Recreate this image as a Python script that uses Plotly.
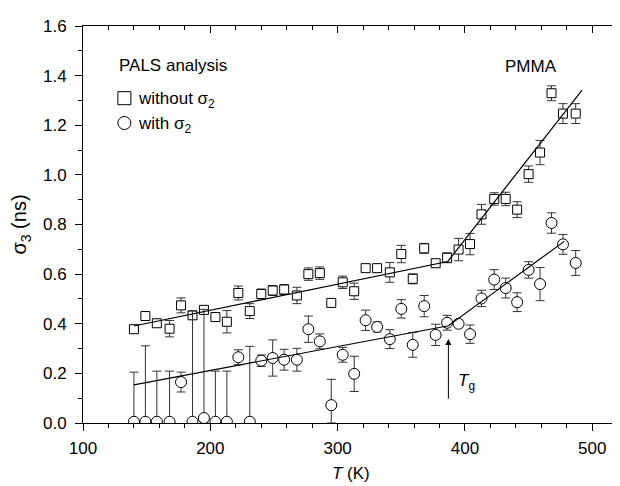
import plotly.graph_objects as go

# temperatures (K)
temp = [140, 149, 158, 168, 177, 186, 195, 204, 213, 222, 231, 240, 249, 258, 268,
        277, 286, 295, 304, 313, 322, 331, 341, 350, 359, 368, 377, 386, 395, 404,
        413, 423, 432, 441, 450, 459, 468, 477, 487]

# sigma_3 from PALS analysis without sigma_2 (squares)
sig_without = [0.378, 0.431, 0.402, 0.380, 0.474, 0.434, 0.456, 0.427, 0.408, 0.524,
               0.451, 0.520, 0.534, 0.538, 0.514, 0.600, 0.604, 0.484, 0.567, 0.531,
               0.624, 0.624, 0.607, 0.681, 0.581, 0.704, 0.644, 0.666, 0.699, 0.721,
               0.841, 0.903, 0.903, 0.860, 1.003, 1.090, 1.329, 1.247, 1.247]
err_without = [0.015, 0.015, 0.015, 0.033, 0.030, 0.015, 0.015, 0.015, 0.045, 0.028,
               0.030, 0.020, 0.020, 0.020, 0.033, 0.025, 0.025, 0.0, 0.025, 0.033,
               0.015, 0.015, 0.040, 0.035, 0.020, 0.020, 0.015, 0.020, 0.045, 0.043,
               0.040, 0.025, 0.027, 0.032, 0.033, 0.049, 0.030, 0.040, 0.040]

# sigma_3 from PALS analysis with sigma_2 (circles)
sig_with = [0.005, 0.005, 0.005, 0.005, 0.165, 0.005, 0.020, 0.005, 0.005, 0.265,
            0.005, 0.251, 0.262, 0.255, 0.255, 0.378, 0.329, 0.072, 0.275, 0.198,
            0.414, 0.387, 0.338, 0.460, 0.315, 0.471, 0.355, 0.404, 0.400, 0.358,
            0.502, 0.578, 0.544, 0.487, 0.617, 0.560, 0.806, 0.720, 0.645]
err_with_up = [0.200, 0.306, 0.204, 0.204, 0.040, 0.446, 0.438, 0.204, 0.204, 0.030,
               0.304, 0.023, 0.073, 0.042, 0.046, 0.053, 0.030, 0.104, 0.030, 0.071,
               0.041, 0.020, 0.038, 0.037, 0.050, 0.043, 0.043, 0.030, 0.015, 0.037,
               0.033, 0.040, 0.040, 0.038, 0.033, 0.067, 0.041, 0.040, 0.050]
err_with_down = [0.005, 0.005, 0.005, 0.005, 0.040, 0.005, 0.020, 0.005, 0.005, 0.030,
                 0.005, 0.023, 0.073, 0.042, 0.046, 0.053, 0.030, 0.072, 0.030, 0.071,
                 0.041, 0.020, 0.038, 0.037, 0.050, 0.043, 0.043, 0.030, 0.015, 0.037,
                 0.033, 0.040, 0.040, 0.038, 0.033, 0.067, 0.041, 0.040, 0.050]

# bilinear fits
fit_without_T = [140, 386.5, 492]
fit_without_s = [0.391, 0.651, 1.342]
fit_with_T = [140, 387, 478]
fit_with_s = [0.154, 0.392, 0.732]

FONT = "Liberation Sans"
ink = "black"

fig = go.Figure()

fig.add_trace(go.Scatter(
    x=temp, y=sig_without, mode="markers",
    marker=dict(symbol="square", size=9, color="white", line=dict(color=ink, width=1)),
    error_y=dict(type="data", array=err_without, color="#333", thickness=1, width=4.5),
    showlegend=False, hoverinfo="skip"))

fig.add_trace(go.Scatter(
    x=temp, y=sig_with, mode="markers",
    marker=dict(symbol="circle", size=11, color="white", line=dict(color=ink, width=1)),
    error_y=dict(type="data", symmetric=False, array=err_with_up, arrayminus=err_with_down,
                 color="#333", thickness=1, width=4.5),
    showlegend=False, hoverinfo="skip"))

fig.add_trace(go.Scatter(x=fit_without_T, y=fit_without_s, mode="lines",
                         line=dict(color=ink, width=1.2), showlegend=False, hoverinfo="skip"))
fig.add_trace(go.Scatter(x=fit_with_T, y=fit_with_s, mode="lines",
                         line=dict(color=ink, width=1.2), showlegend=False, hoverinfo="skip"))

# empty trace so the mirrored top/right axes get drawn
fig.add_trace(go.Scatter(x=[None], y=[None], xaxis="x2", yaxis="y2",
                         showlegend=False, hoverinfo="skip"))

xr = [100, 521]
yr = [0, 1.6]

# the page body has an 8px margin, so the margins are offset to compensate
fig.update_layout(
    width=620, height=486,
    margin=dict(l=75, r=9, t=14, b=71),
    paper_bgcolor="white", plot_bgcolor="white",
    font=dict(family=FONT, size=17, color=ink),
    xaxis=dict(range=xr, showgrid=False, zeroline=False, showline=True,
               linecolor=ink, linewidth=1, ticks="outside", ticklen=7, tickwidth=1,
               tickcolor=ink, dtick=100, tick0=100, ticklabelstandoff=3,
               minor=dict(ticks="outside", ticklen=4, dtick=20, tickcolor=ink, tickwidth=1)),
    yaxis=dict(range=yr, showgrid=False, zeroline=False, showline=True,
               linecolor=ink, linewidth=1, ticks="outside", ticklen=7, tickwidth=1,
               tickcolor=ink, dtick=0.2, tickformat=".1f", ticklabelstandoff=5,
               minor=dict(ticks="outside", ticklen=4, dtick=0.1, tickcolor=ink, tickwidth=1),
               title=dict(text="σ<sub>3</sub> (ns)", standoff=10)),
    xaxis2=dict(range=xr, overlaying="x", side="top", anchor="y", showgrid=False,
                zeroline=False, showline=True, linecolor=ink, linewidth=1,
                ticks="inside", ticklen=7, tickcolor=ink, dtick=100, tick0=100,
                showticklabels=False,
                minor=dict(ticks="inside", ticklen=4, dtick=20, tickcolor=ink)),
    yaxis2=dict(range=yr, overlaying="y", side="right", anchor="x", showgrid=False,
                zeroline=False, showline=True, linecolor=ink, linewidth=1,
                ticks="inside", ticklen=7, tickcolor=ink, dtick=0.2,
                showticklabels=False,
                minor=dict(ticks="inside", ticklen=4, dtick=0.1, tickcolor=ink)),
)

# x axis title placed as an annotation so it sits just above the bottom edge
fig.add_annotation(xref="paper", yref="paper", x=0.5, y=-0.127, text="<i>T</i> (K)",
                   showarrow=False, xanchor="center", yanchor="middle")

# legend-like labels
fig.add_annotation(x=126.5, y=1.44, text="PALS analysis", showarrow=False,
                   xanchor="left", yanchor="middle")
fig.add_annotation(x=142, y=1.30, text="without σ<sub>2</sub>", showarrow=False,
                   xanchor="left", yanchor="middle")
fig.add_annotation(x=142, y=1.20, text="with σ<sub>2</sub>", showarrow=False,
                   xanchor="left", yanchor="middle")
fig.add_shape(type="rect", xref="x", yref="y", xsizemode="pixel", ysizemode="pixel",
              xanchor=132.5, yanchor=1.309, x0=-6.5, x1=6.5, y0=-6.5, y1=6.5,
              line=dict(color=ink, width=1))
fig.add_shape(type="circle", xref="x", yref="y", xsizemode="pixel", ysizemode="pixel",
              xanchor=132.5, yanchor=1.209, x0=-6.5, x1=6.5, y0=-6.5, y1=6.5,
              line=dict(color=ink, width=1))

fig.add_annotation(x=430, y=1.437, text="PMMA", showarrow=False,
                   xanchor="left", yanchor="middle")

# glass transition marker
fig.add_annotation(x=387, y=0.339, ax=387, ay=0.092, axref="x", ayref="y",
                   text="", showarrow=True, arrowhead=2, arrowsize=1.2,
                   arrowwidth=1, arrowcolor=ink)
fig.add_annotation(x=393, y=0.165, text="<i>T</i><sub>g</sub>", showarrow=False,
                   xanchor="left", yanchor="middle")

fig.write_html("out.html")
